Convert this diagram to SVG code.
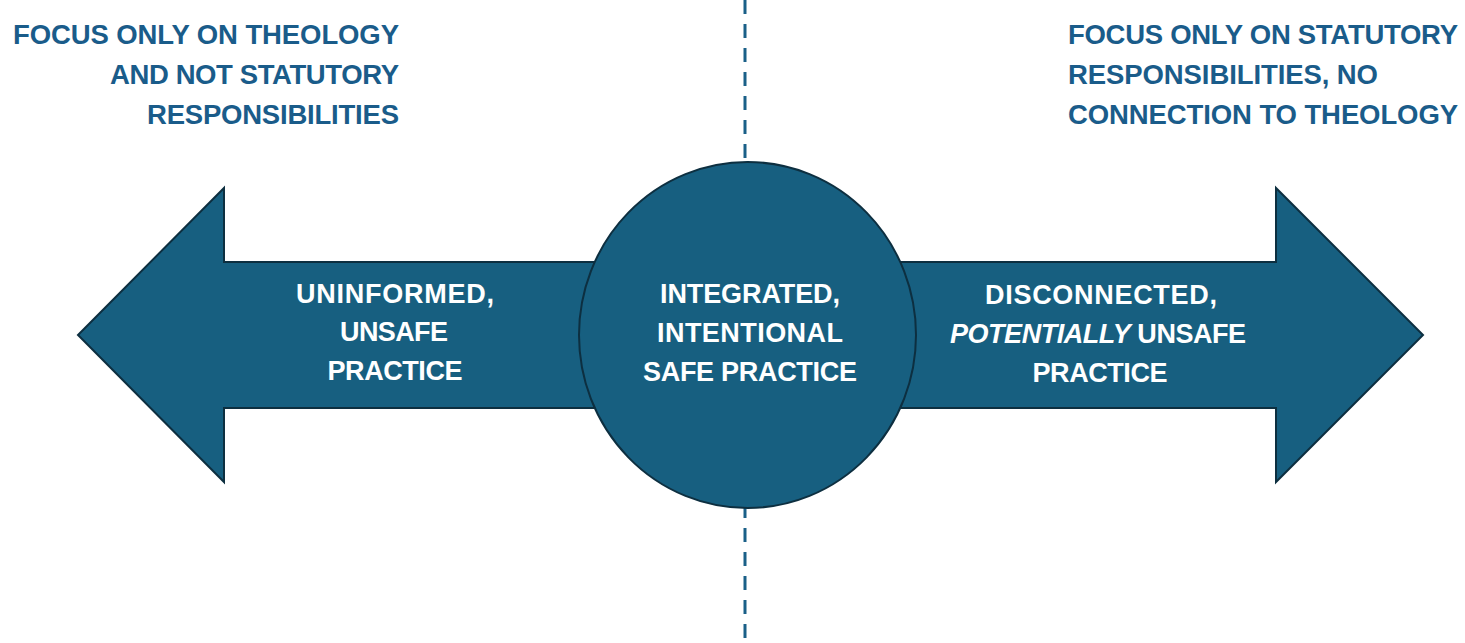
<svg xmlns="http://www.w3.org/2000/svg" width="1465" height="643" viewBox="0 0 1465 643">
<style>
.title{font-family:"Liberation Sans",Arial,sans-serif;font-weight:bold;font-size:27.5px;fill:#1a5c8a}
.lbl{font-family:"Liberation Sans",Arial,sans-serif;font-weight:bold;font-size:27px;fill:#ffffff;text-anchor:middle}
.shape{fill:#175f80;stroke:#0d2f40;stroke-width:2}
</style>
<rect width="1465" height="643" fill="#ffffff"/>
<g id="connectors">
<line x1="745" y1="0" x2="745" y2="643" stroke="#1a6088" stroke-width="3" stroke-dasharray="14 10"/>
</g>
<g id="arrow">
<polygon class="shape" points="78,335 224,188 224,262 1276,262 1276,188 1423,335 1276,482 1276,408 224,408 224,482"/>
</g>
<g id="circle">
<ellipse class="shape" cx="747.5" cy="335" rx="168.5" ry="173"/>
</g>
<g id="title-left">
<text class="title" text-anchor="end" x="399" y="44" textLength="386">FOCUS ONLY ON THEOLOGY</text>
<text class="title" text-anchor="end" x="399" y="84" textLength="289">AND NOT STATUTORY</text>
<text class="title" text-anchor="end" x="399" y="124" textLength="252">RESPONSIBILITIES</text>
</g>
<g id="title-right">
<text class="title" x="1068" y="44" textLength="390">FOCUS ONLY ON STATUTORY</text>
<text class="title" x="1068" y="84" textLength="310">RESPONSIBILITIES, NO</text>
<text class="title" x="1068" y="124" textLength="390">CONNECTION TO THEOLOGY</text>
</g>
<g id="label-left">
<text class="lbl" x="395" y="303" textLength="198">UNINFORMED,</text>
<text class="lbl" x="394" y="341" textLength="108">UNSAFE</text>
<text class="lbl" x="395" y="380" textLength="135">PRACTICE</text>
</g>
<g id="label-center">
<text class="lbl" x="750" y="303" textLength="180">INTEGRATED,</text>
<text class="lbl" x="750" y="342" textLength="186">INTENTIONAL</text>
<text class="lbl" x="750" y="381" textLength="214">SAFE PRACTICE</text>
</g>
<g id="label-right">
<text class="lbl" x="1101" y="304" textLength="232">DISCONNECTED,</text>
<text class="lbl" x="1098" y="343" textLength="296"><tspan font-style="italic">POTENTIALLY</tspan> UNSAFE</text>
<text class="lbl" x="1100" y="382" textLength="135">PRACTICE</text>
</g>
</svg>
